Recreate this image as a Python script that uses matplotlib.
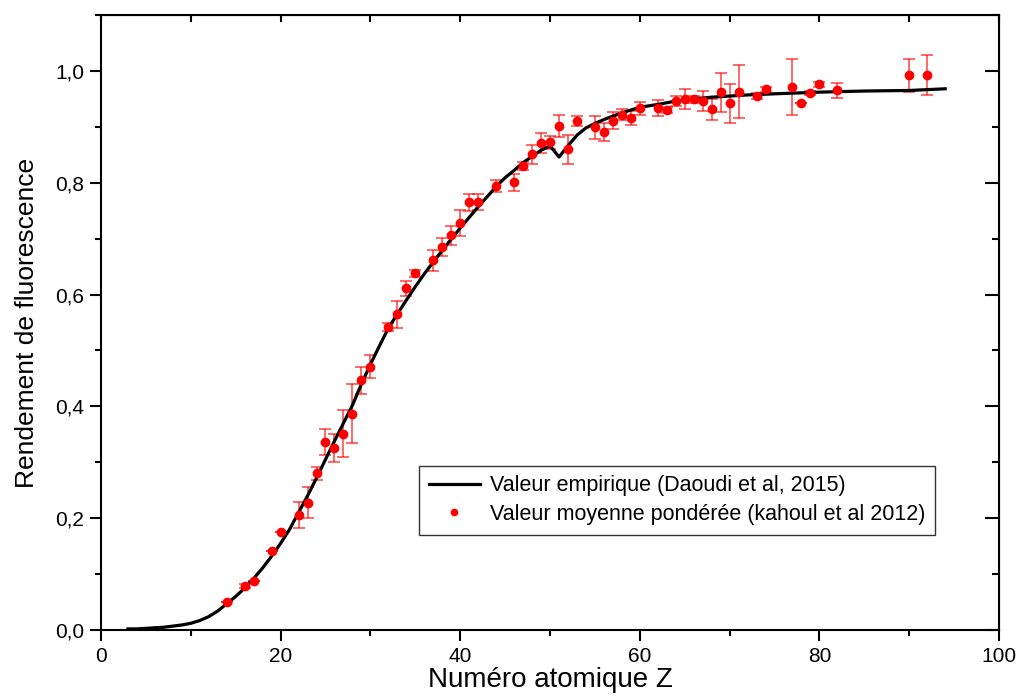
import numpy as np
import matplotlib.pyplot as plt
from matplotlib.lines import Line2D
from matplotlib.ticker import MultipleLocator, FuncFormatter

plt.rcParams['font.family'] = ['Liberation Sans', 'DejaVu Sans']

z_fit = [3, 4, 5, 6, 7, 8, 9, 10, 11, 12, 13, 14, 15, 16, 17, 18, 19, 20,
         21, 22, 23, 24, 25, 26, 27, 28, 29, 30, 31, 32, 33, 34, 35, 36, 37,
         38, 39, 40, 41, 42, 43, 44, 45, 46, 47, 48, 49, 50, 51, 52, 53, 54,
         55, 56, 57, 58, 59, 60, 62, 64, 66, 68, 70, 72, 75, 80, 85, 90, 94]
w_fit = [0.002, 0.002, 0.003, 0.004, 0.005, 0.007, 0.009, 0.012, 0.017, 0.024,
         0.034, 0.047, 0.060, 0.075, 0.092, 0.111, 0.132, 0.155, 0.180, 0.210,
         0.240, 0.272, 0.305, 0.338, 0.370, 0.402, 0.440, 0.475, 0.508, 0.540,
         0.565, 0.590, 0.614, 0.637, 0.658, 0.679, 0.699, 0.719, 0.738, 0.757,
         0.775, 0.793, 0.809, 0.822, 0.836, 0.847, 0.858, 0.866, 0.846, 0.866,
         0.885, 0.898, 0.906, 0.913, 0.919, 0.925, 0.930, 0.935, 0.940, 0.946,
         0.950, 0.953, 0.955, 0.957, 0.959, 0.962, 0.964, 0.965, 0.968]

# weighted mean values (kahoul et al 2012)
z_exp = [14, 16, 17, 19, 20, 22, 23, 24, 25, 26, 27, 28, 29, 30, 32, 33, 34,
         35, 37, 38, 39, 40, 41, 42, 44, 46, 47, 48, 49, 50, 51, 52, 53, 55,
         56, 57, 58, 59, 60, 62, 63, 64, 65, 66, 67, 68, 69, 70, 71, 73, 74,
         77, 78, 79, 80, 82, 90, 92]
w_exp = [0.051, 0.079, 0.088, 0.141, 0.175, 0.206, 0.228, 0.280, 0.336, 0.326,
         0.351, 0.387, 0.447, 0.471, 0.542, 0.565, 0.611, 0.638, 0.661, 0.685,
         0.706, 0.728, 0.765, 0.766, 0.794, 0.801, 0.830, 0.851, 0.871, 0.872,
         0.902, 0.860, 0.911, 0.899, 0.890, 0.911, 0.922, 0.916, 0.933, 0.934,
         0.930, 0.946, 0.950, 0.949, 0.946, 0.931, 0.962, 0.942, 0.963, 0.955,
         0.967, 0.971, 0.942, 0.960, 0.976, 0.965, 0.992, 0.992]
err_exp = [0, 0.003, 0, 0, 0, 0.023, 0.027, 0.011, 0.023, 0.025,
           0.042, 0.053, 0.024, 0.020, 0.007, 0.024, 0.013, 0.006, 0.019, 0.016,
           0.017, 0.024, 0.015, 0.014, 0.010, 0.015, 0.007, 0.017, 0.018, 0.011,
           0.020, 0.026, 0.009, 0.021, 0.016, 0.015, 0.009, 0.013, 0.012, 0.014,
           0.006, 0.009, 0.018, 0.006, 0.018, 0.018, 0.035, 0.035, 0.048, 0.005,
           0.004, 0.050, 0, 0.004, 0.004, 0.013, 0.029, 0.036]

fig = plt.figure(figsize=(10.21, 6.97), dpi=100)
ax = fig.add_axes([0.0989, 0.0961, 0.8796, 0.8824])

ax.errorbar(z_exp, w_exp, yerr=err_exp, fmt='none', ecolor='red', elinewidth=1.1,
            capsize=4.5, capthick=1.1, alpha=0.75, zorder=2)
ax.plot(z_fit, w_fit, color='black', lw=2.3, zorder=3)
ax.plot(z_exp, w_exp, 'o', color='red', ms=6, mec='red', zorder=4)

ax.set_xlim(0, 100)
ax.set_ylim(0, 1.1)
ax.xaxis.set_major_locator(MultipleLocator(20))
ax.xaxis.set_minor_locator(MultipleLocator(10))
ax.yaxis.set_major_locator(MultipleLocator(0.2))
ax.yaxis.set_minor_locator(MultipleLocator(0.1))
ax.yaxis.set_major_formatter(FuncFormatter(lambda v, p: f"{v:.1f}".replace('.', ',')))

for s in ax.spines.values():
    s.set_linewidth(1.5)
ax.tick_params(which='both', direction='out', width=1.5, labelsize=15, pad=4)
ax.tick_params(which='major', length=8)
ax.tick_params(which='minor', length=4)
# inward ticks on top and right
axt = ax.secondary_xaxis('top')
axt.xaxis.set_major_locator(MultipleLocator(20))
axt.xaxis.set_minor_locator(MultipleLocator(10))
axt.tick_params(which='both', direction='in', width=1.5, labeltop=False)
axt.tick_params(which='major', length=5)
axt.tick_params(which='minor', length=5)
axr = ax.secondary_yaxis('right')
axr.yaxis.set_major_locator(MultipleLocator(0.2))
axr.yaxis.set_minor_locator(MultipleLocator(0.1))
axr.tick_params(which='both', direction='in', width=1.5, labelright=False)
axr.tick_params(which='major', length=10)
axr.tick_params(which='minor', length=5)

ax.set_xlabel('Numéro atomique Z', fontsize=20, labelpad=1)
ax.set_ylabel('Rendement de fluorescence', fontsize=19, labelpad=12)

handles = [Line2D([], [], color='black', lw=2.3),
           Line2D([], [], ls='none', marker='o', color='red', ms=4.5)]
labels = ['Valeur empirique (Daoudi et al, 2015)',
          'Valeur moyenne pondérée (kahoul et al 2012)']
leg = ax.legend(handles, labels, loc='upper left', bbox_to_anchor=(0.354, 0.267),
                fontsize=15.5, frameon=True, fancybox=False, shadow=False,
                handlelength=2.4, handletextpad=0.45, borderpad=0.45,
                labelspacing=0.35, borderaxespad=0)
leg.get_frame().set_edgecolor('black')
leg.get_frame().set_linewidth(1.0)

fig.savefig('out.png', dpi=100)
